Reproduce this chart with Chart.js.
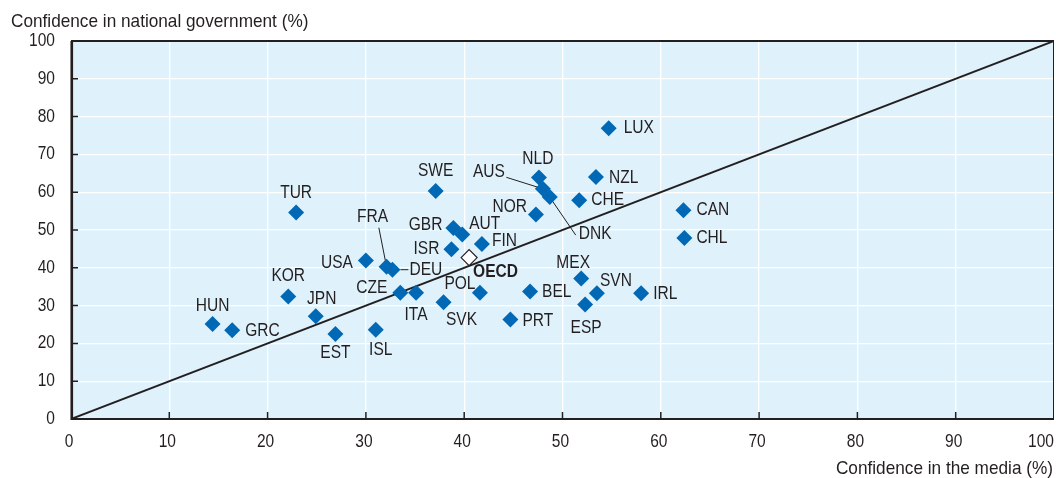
<!DOCTYPE html>
<html><head><meta charset="utf-8">
<script src="https://cdn.jsdelivr.net/npm/chart.js@4.4.1/dist/chart.umd.min.js"></script>
<style>html,body{margin:0;padding:0;background:#fff;overflow:hidden}#wrap{width:1056px;height:478px;position:relative}</style>
</head><body><div id="wrap"><canvas id="c" width="1056" height="478"></canvas></div>
<script>
const countries = ['TUR','SWE','HUN','GRC','KOR','JPN','EST','ISL','USA','FRA','DEU','CZE','ITA','SVK','GBR','AUT','ISR','FIN','POL','LUX','NLD','AUS','DNK','NZL','CHE','NOR','CAN','CHL','MEX','SVN','ESP','IRL','BEL','PRT'];
const media      = [22.9,37.1,14.4,16.4,22.1,24.9,26.9,31.0,30.0,32.1,32.7,33.5,35.1,37.9,38.9,39.8,38.7,41.8,41.6,54.7,47.6,48.0,48.7,53.4,51.7,47.3,62.3,62.4,51.9,53.5,52.3,58.0,46.7,44.7];
const government = [54.6,60.3,25.1,23.5,32.4,27.2,22.5,23.6,41.9,40.3,39.5,33.4,33.4,30.9,50.5,48.8,44.9,46.3,33.4,76.9,63.9,60.9,58.7,64.0,57.9,54.1,55.2,47.9,37.2,33.3,30.3,33.3,33.7,26.3];
const oecdName = 'OECD';
const oecdMedia = [40.5];
const oecdGovernment = [42.7];
const diagonalX = [0, 100];
const diagonalY = [0, 100];
const tickValues = [0,10,20,30,40,50,60,70,80,90,100];
const xTitle = 'Confidence in the media (%)';
const yTitle = 'Confidence in national government (%)';

// label placement (pixel offsets from the marker) - styling only
const labelPos = {
  TUR:[0,-20,'center'], SWE:[0,-20,'center'], HUN:[0,-18,'center'], GRC:[13,1,'left'],
  KOR:[0,-21,'center'], JPN:[6,-17,'center'], EST:[0,19,'center'], ISL:[5,20,'center'],
  USA:[-13,2,'right'], FRA:[-14,-50,'center'], DEU:[17,0,'left'], CZE:[-13,-5,'right'],
  ITA:[0,22,'center'], SVK:[18,18,'center'], GBR:[-11,-3,'right'], AUT:[7,-11,'left'],
  ISR:[-12,0,'right'], FIN:[10,-3,'left'], POL:[-20,-9,'center'], LUX:[15,0,'left'],
  NLD:[-1,-19,'center'], AUS:[-38,-17,'right'], DNK:[29,37,'left'], NZL:[13,1,'left'],
  CHE:[12,0,'left'], NOR:[-9,-8,'right'], CAN:[13,0,'left'], CHL:[12,0,'left'],
  MEX:[-8,-15,'center'], SVN:[19,-12,'center'], ESP:[1,23,'center'], IRL:[12,1,'left'],
  BEL:[12,0,'left'], PRT:[12,1,'left'], OECD:[4,14,'left']
};
const leaders = {
  FRA:[[-7.7,-39],[0,0]], DEU:[[8,0],[16,0]], AUS:[[-36.5,-11.5],[0,0]], DNK:[[0,0],[26,38]]
};

const FONT = "'Liberation Sans',Arial,sans-serif";
const SX = 0.84;
const SX_TITLE = 0.93;
const TXT = '#231f20';
const BLUE = '#0068b4';

function narrowText(ctx, text, x, y, align, sx){
  ctx.save();
  ctx.translate(x, y);
  ctx.scale(sx || SX, 1);
  ctx.textAlign = align;
  ctx.textBaseline = 'middle';
  ctx.fillText(text, 0, 0);
  ctx.restore();
}

const pts = countries.map((c,i)=>({x:media[i], y:government[i], name:c}));
const oecdPts = oecdMedia.map((v,i)=>({x:v, y:oecdGovernment[i], name:oecdName}));
const diag = diagonalX.map((v,i)=>({x:v, y:diagonalY[i]}));

const deco = {
  id:'deco',
  beforeDraw(chart){
    const {ctx, chartArea:a} = chart;
    ctx.save();
    ctx.fillStyle = '#dff2fc';
    ctx.fillRect(a.left, a.top, a.right-a.left, a.bottom-a.top);
    ctx.restore();
  },
  beforeDatasetsDraw(chart){
    const {ctx, chartArea:a, scales:{x, y}} = chart;
    ctx.save();
    ctx.strokeStyle = TXT;
    ctx.lineWidth = 1;
    ctx.strokeRect(a.left, a.top+0.5, a.right-a.left-0.5, a.bottom-a.top);
    ctx.lineWidth = 2.2;
    ctx.beginPath();
    ctx.moveTo(a.left, a.top); ctx.lineTo(a.right, a.top);
    ctx.moveTo(a.left+1, a.top); ctx.lineTo(a.left+1, a.bottom);
    ctx.lineTo(a.right, a.bottom);
    ctx.stroke();
    ctx.lineWidth = 1.5;
    ctx.beginPath();
    tickValues.forEach(v=>{
      if (v<=0 || v>=100) return;
      const px = x.getPixelForValue(v);
      ctx.moveTo(px, a.bottom); ctx.lineTo(px, a.bottom-7);
      const py = y.getPixelForValue(v);
      ctx.moveTo(a.left, py); ctx.lineTo(a.left+7, py);
    });
    ctx.stroke();
    ctx.lineWidth = 1;
    const meta = chart.getDatasetMeta(1);
    meta.data.forEach((el,i)=>{
      const L = leaders[countries[i]];
      if (!L) return;
      ctx.beginPath();
      ctx.moveTo(el.x+L[0][0], el.y+L[0][1]);
      ctx.lineTo(el.x+L[1][0], el.y+L[1][1]);
      ctx.stroke();
    });
    ctx.restore();
  },
  afterDatasetsDraw(chart){
    const {ctx, chartArea:a, scales:{x, y}} = chart;
    ctx.save();
    ctx.fillStyle = TXT;
    ctx.font = '18.5px ' + FONT;
    const meta = chart.getDatasetMeta(1);
    meta.data.forEach((el,i)=>{
      const p = labelPos[countries[i]] || [12,0,'left'];
      narrowText(ctx, countries[i], el.x+p[0], el.y+p[1], p[2]);
    });
    ctx.font = 'bold 18.5px ' + FONT;
    chart.getDatasetMeta(2).data.forEach(el=>{
      const p = labelPos[oecdName];
      narrowText(ctx, oecdName, el.x+p[0], el.y+p[1], p[2]);
    });
    ctx.font = '18.5px ' + FONT;
    tickValues.forEach(v=>{
      const px = x.getPixelForValue(v);
      narrowText(ctx, String(v), v===100 ? px : px-2, a.bottom+23, v===100 ? 'right' : 'center');
      const py = y.getPixelForValue(v);
      narrowText(ctx, String(v), a.left-16, py, 'right');
    });
    narrowText(ctx, yTitle, 11, 22, 'left', SX_TITLE);
    narrowText(ctx, xTitle, a.right-1, 469, 'right', SX_TITLE);
    ctx.restore();
  }
};

const chart = new Chart(document.getElementById('c'), {
  type:'scatter',
  data:{ datasets:[
    { type:'line', data:diag, borderColor:TXT, borderWidth:2, pointRadius:0, fill:false, order:3 },
    { data:pts, pointStyle:'rectRot', pointRadius:8, pointHoverRadius:8, backgroundColor:BLUE, borderColor:BLUE, borderWidth:0, order:2 },
    { data:oecdPts, pointStyle:'rectRot', pointRadius:8, pointHoverRadius:8, backgroundColor:'#ffffff', borderColor:TXT, borderWidth:1.2, order:1 }
  ]},
  options:{
    responsive:false, animation:false, devicePixelRatio:1,
    layout:{ autoPadding:false, padding:{ top:41, right:2, left:0, bottom:0 } },
    plugins:{ legend:{display:false}, tooltip:{enabled:false} },
    scales:{
      x:{ type:'linear', min:0, max:100,
          ticks:{ display:false, stepSize:10 },
          grid:{ color:'#ffffff', lineWidth:1.3, drawTicks:false },
          border:{ display:false },
          afterFit(s){ s.height = 59; s.paddingLeft = 0; s.paddingRight = 0; } },
      y:{ type:'linear', min:0, max:100,
          ticks:{ display:false, stepSize:10 },
          grid:{ color:'#ffffff', lineWidth:1.3, drawTicks:false },
          border:{ display:false },
          afterFit(s){ s.width = 71; s.paddingTop = 0; s.paddingBottom = 0; } }
    }
  },
  plugins:[deco]
});
</script></body></html>
